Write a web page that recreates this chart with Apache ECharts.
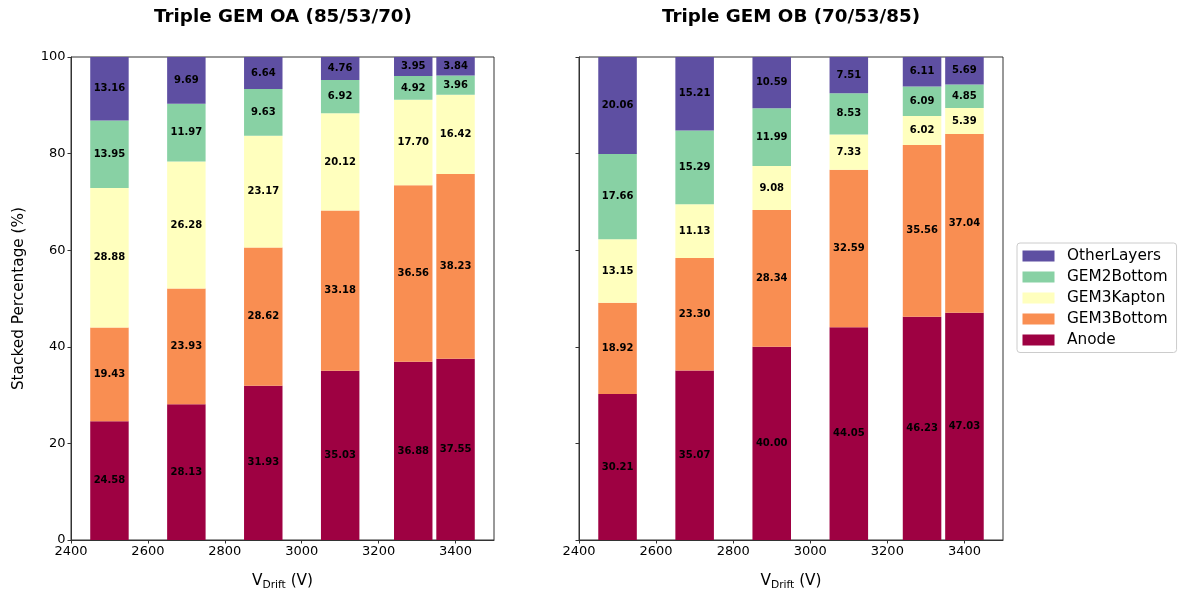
<!DOCTYPE html>
<html><head><meta charset="utf-8">
<script src="https://cdn.jsdelivr.net/npm/echarts@6/dist/echarts.min.js"></script>
<style>html,body{margin:0;padding:0;background:#fff}#c{width:1184px;height:597px}</style>
</head><body><div id="c"></div>
<script>
const voltages = [2500, 2700, 2900, 3100, 3290, 3400];
const xTicks = [2400, 2600, 2800, 3000, 3200, 3400];
const layerNames = ['Anode', 'GEM3Bottom', 'GEM3Kapton', 'GEM2Bottom', 'OtherLayers'];
const layerColors = ['#9e0142', '#f98e52', '#ffffbe', '#88d1a4', '#5e4fa2'];
const panelTitles = ['Triple GEM OA (85/53/70)', 'Triple GEM OB (70/53/85)'];
const BAR_WIDTH_V = 100;

const oaAnode       = [24.58, 28.13, 31.93, 35.03, 36.88, 37.55];
const oaGEM3Bottom  = [19.43, 23.93, 28.62, 33.18, 36.56, 38.23];
const oaGEM3Kapton  = [28.88, 26.28, 23.17, 20.12, 17.70, 16.42];
const oaGEM2Bottom  = [13.95, 11.97, 9.63, 6.92, 4.92, 3.96];
const oaOtherLayers = [13.16, 9.69, 6.64, 4.76, 3.95, 3.84];

const obAnode       = [30.21, 35.07, 40.00, 44.05, 46.23, 47.03];
const obGEM3Bottom  = [18.92, 23.30, 28.34, 32.59, 35.56, 37.04];
const obGEM3Kapton  = [13.15, 11.13, 9.08, 7.33, 6.02, 5.39];
const obGEM2Bottom  = [17.66, 15.29, 11.99, 8.53, 6.09, 4.85];
const obOtherLayers = [20.06, 15.21, 10.59, 7.51, 6.11, 5.69];

const panels = [
  [oaAnode, oaGEM3Bottom, oaGEM3Kapton, oaGEM2Bottom, oaOtherLayers],
  [obAnode, obGEM3Bottom, obGEM3Kapton, obGEM2Bottom, obOtherLayers]
];

const FONT = 'DejaVu Sans';
const AX = '#333';
const grids = [
  {left: 71, right: 690, top: 57, bottom: 57},
  {left: 579, right: 181, top: 57, bottom: 57}
];

const xAxes = grids.map((g, i) => ({
  type: 'value', gridIndex: i, min: 2400, max: 3500, interval: 200,
  name: '{a|V}{b|Drift}{a| (V)}', nameLocation: 'middle', nameGap: 32,
  nameTextStyle: {rich: {
    a: {fontFamily: FONT, fontSize: 15.3, color: '#000'},
    b: {fontFamily: FONT, fontSize: 10.7, color: '#000', padding: [8, 0, 0, 0]}
  }},
  axisLine: {show: true, onZero: false, lineStyle: {color: AX, width: 1}},
  axisTick: {show: true, length: 3.5, customValues: xTicks, lineStyle: {color: AX}},
  axisLabel: {show: true, customValues: xTicks, fontFamily: FONT, fontSize: 13, color: '#000', margin: 5.5,
              formatter: v => String(v)},
  splitLine: {show: false}
}));

const yAxes = grids.map((g, i) => ({
  type: 'value', gridIndex: i, min: 0, max: 100, interval: 20,
  name: i === 0 ? 'Stacked Percentage (%)' : '', nameLocation: 'middle', nameGap: 44,
  nameTextStyle: {fontFamily: FONT, fontSize: 15.3, color: '#000'},
  axisLine: {show: true, lineStyle: {color: AX, width: 1}},
  axisTick: {show: true, length: 3.5, lineStyle: {color: AX}},
  axisLabel: {show: i === 0, fontFamily: FONT, fontSize: 13, color: '#000', margin: 5.5},
  splitLine: {show: false}
}));

function makeRender(color) {
  return function (params, api) {
    const x = api.value(0), base = api.value(1), top = api.value(2), val = api.value(3);
    const p0 = api.coord([x - BAR_WIDTH_V / 2, base]);
    const p1 = api.coord([x + BAR_WIDTH_V / 2, top]);
    const w = p1[0] - p0[0], h = p0[1] - p1[1];
    return {
      type: 'group',
      children: [
        {type: 'rect', shape: {x: p0[0], y: p1[1], width: w, height: h}, style: {fill: color}},
        {type: 'text', z2: 10, style: {
          text: val.toFixed(2), x: p0[0] + w / 2, y: p1[1] + h / 2,
          align: 'center', verticalAlign: 'middle',
          font: 'bold 10px "DejaVu Sans"', fill: '#000'
        }}
      ]
    };
  };
}

const series = [];
panels.forEach((layers, p) => {
  const cum = voltages.map(() => 0);
  layers.forEach((arr, k) => {
    const data = voltages.map((v, j) => {
      const base = cum[j];
      cum[j] += arr[j];
      return [v, base, cum[j], arr[j]];
    });
    series.push({
      type: 'custom', name: layerNames[k], xAxisIndex: p, yAxisIndex: p,
      itemStyle: {color: layerColors[k]},
      encode: {x: 0, y: [1, 2]},
      clip: true,
      renderItem: makeRender(layerColors[k]),
      data: data
    });
  });
});

const chart = echarts.init(document.getElementById('c'), null, {renderer: 'canvas'});
chart.setOption({
  animation: false,
  backgroundColor: '#fff',
  title: panelTitles.map((t, i) => ({
    text: t, left: i === 0 ? 278 : 786, top: 3, textAlign: 'center',
    textStyle: {fontFamily: FONT, fontSize: 18.3, fontWeight: 'bold', color: '#000'}
  })),
  legend: {
    orient: 'vertical', left: 1017, top: 243,
    data: layerNames.slice().reverse(),
    icon: 'rect', itemWidth: 32, itemHeight: 11, itemGap: 6,
    textStyle: {fontFamily: FONT, fontSize: 15.3, color: '#000', padding: [0, 0, 0, 7.5]},
    borderColor: '#ccc', borderWidth: 1, borderRadius: 3,
    padding: [5.5, 9, 5, 5.5]
  },
  grid: grids.map(g => Object.assign({show: true, borderColor: AX, borderWidth: 1, backgroundColor: 'transparent'}, g)),
  xAxis: xAxes,
  yAxis: yAxes,
  series: series
});
</script>
</body></html>
